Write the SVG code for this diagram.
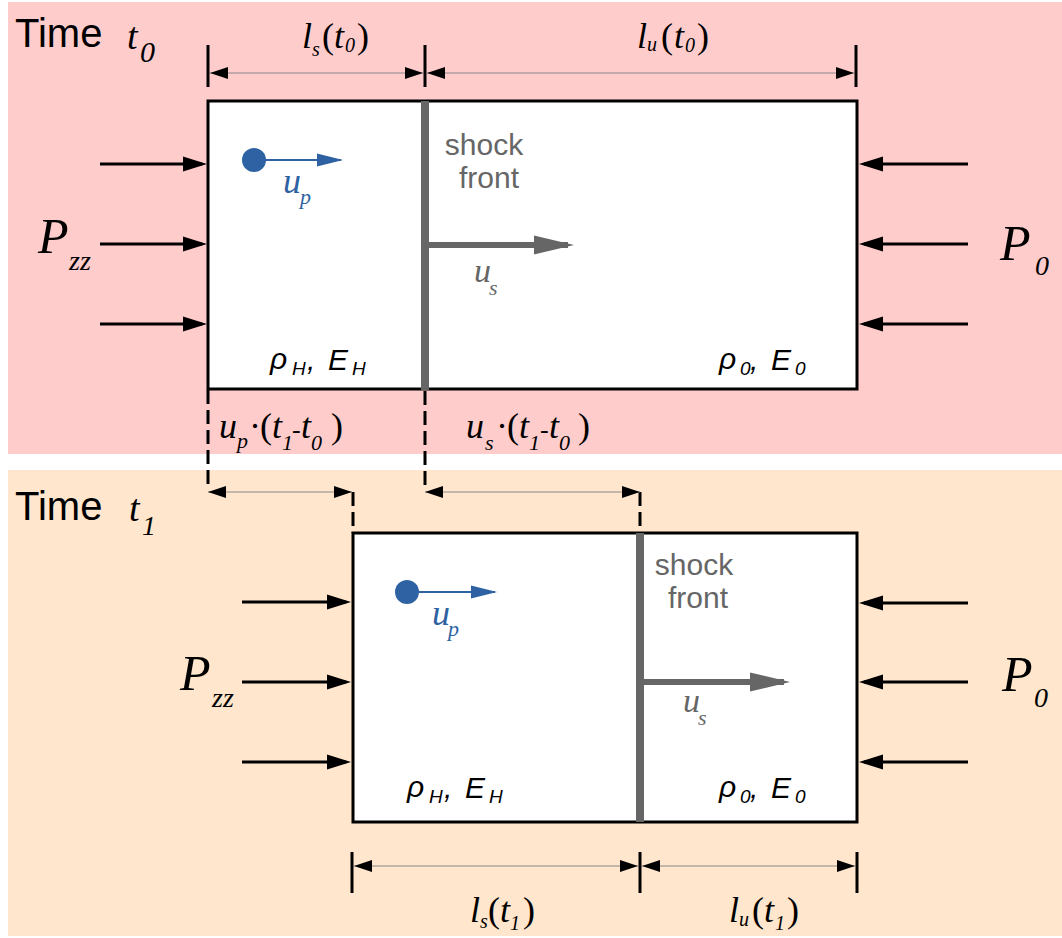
<svg xmlns="http://www.w3.org/2000/svg" width="1062" height="938" viewBox="0 0 1062 938">
<defs>
<style>
.sans{font-family:"Liberation Sans",Arial,sans-serif}
.isans{font-family:"Liberation Sans",Arial,sans-serif;font-style:italic}
.math{font-family:"Liberation Serif","Times New Roman",serif;font-style:italic}
.up{font-style:normal}
.box{fill:#fff;stroke:#000;stroke-width:3}
.shock{stroke:#666;stroke-width:8}
.press{stroke:#000;stroke-width:3;marker-end:url(#pa)}
.dim{stroke:#888;stroke-width:1;marker-start:url(#da);marker-end:url(#da)}
.tick{stroke:#000;stroke-width:3}
.dash{stroke:#000;stroke-width:3;stroke-dasharray:14 6;fill:none}
.sarrow{stroke:#666;stroke-width:6;marker-end:url(#sa)}
.barrow{stroke:#2e62a2;stroke-width:2;marker-end:url(#ba)}
.gray{fill:#666}
.blue{fill:#2e62a2}
</style>
<marker id="pa" markerUnits="userSpaceOnUse" markerWidth="24" markerHeight="16" refX="19" refY="8" orient="auto"><path d="M0,0.5 L24,8 L0,15.5 z" fill="#000"/></marker>
<marker id="da" markerUnits="userSpaceOnUse" markerWidth="18" markerHeight="12" refX="18" refY="6" orient="auto-start-reverse"><path d="M0,0 L18,6 L0,12 z" fill="#000"/></marker>
<marker id="sa" markerUnits="userSpaceOnUse" markerWidth="40" markerHeight="20" refX="34" refY="10" orient="auto"><path d="M0,0.5 L40,10 L0,19.5 z" fill="#666"/></marker>
<marker id="ba" markerUnits="userSpaceOnUse" markerWidth="26" markerHeight="14" refX="24" refY="7" orient="auto"><path d="M0,0.5 L26,7 L0,13.5 z" fill="#2e62a2"/></marker>
</defs>

<g id="panel-t0">
<rect x="8" y="2" width="1054" height="452" fill="#ffcccc"/>
<text class="sans" x="15" y="47" font-size="40">Time</text>
<text class="math"><tspan x="127" y="49" font-size="38">t</tspan><tspan x="140" y="62" font-size="30">0</tspan></text>
</g>
<g id="panel-t1">
<rect x="8" y="470" width="1054" height="466" fill="#ffe6cc"/>
<text class="sans" x="15" y="520" font-size="40">Time</text>
<text class="math"><tspan x="129" y="521" font-size="38">t</tspan><tspan x="142" y="535" font-size="28">1</tspan></text>
</g>

<g id="box-t0">
<rect class="box" x="208" y="101" width="649" height="288"/>
<line class="shock" x1="425" y1="101" x2="425" y2="390"/>
<text class="sans gray" font-size="30" text-anchor="middle"><tspan x="484" y="155">shock</tspan><tspan x="489" y="188">front</tspan></text>
<text class="isans" font-size="30"><tspan x="270" y="369">ρ</tspan><tspan x="292" y="375" font-size="19">H</tspan><tspan x="307" y="370">,</tspan><tspan x="328" y="370">E</tspan><tspan x="352" y="375" font-size="19">H</tspan></text>
<text class="isans" font-size="30"><tspan x="719" y="369">ρ</tspan><tspan x="740" y="375" font-size="19">0</tspan><tspan x="750" y="370">,</tspan><tspan x="771" y="370">E</tspan><tspan x="795" y="375" font-size="19">0</tspan></text>
<circle class="blue" cx="254" cy="160" r="12"/>
<text class="math blue"><tspan x="283" y="193" font-size="36">u</tspan><tspan x="300" y="204" font-size="22">p</tspan></text>
<text class="math gray"><tspan x="474" y="282" font-size="34">u</tspan><tspan x="489" y="295" font-size="22">s</tspan></text>
</g>

<g id="box-t1">
<rect class="box" x="353" y="533" width="504" height="289"/>
<line class="shock" x1="640" y1="533" x2="640" y2="822"/>
<text class="sans gray" font-size="30" text-anchor="middle"><tspan x="694" y="575">shock</tspan><tspan x="698" y="608">front</tspan></text>
<text class="isans" font-size="30"><tspan x="407" y="797">ρ</tspan><tspan x="429" y="803" font-size="19">H</tspan><tspan x="444" y="798">,</tspan><tspan x="465" y="798">E</tspan><tspan x="489" y="803" font-size="19">H</tspan></text>
<text class="isans" font-size="30"><tspan x="719" y="797">ρ</tspan><tspan x="740" y="803" font-size="19">0</tspan><tspan x="750" y="798">,</tspan><tspan x="771" y="798">E</tspan><tspan x="795" y="803" font-size="19">0</tspan></text>
<circle class="blue" cx="407" cy="592" r="12"/>
<text class="math blue"><tspan x="432" y="625" font-size="36">u</tspan><tspan x="448" y="636" font-size="22">p</tspan></text>
<text class="math gray"><tspan x="683" y="712" font-size="34">u</tspan><tspan x="698" y="725" font-size="22">s</tspan></text>
</g>

<g id="pressure-labels">
<text class="math"><tspan x="38" y="253" font-size="50">P</tspan><tspan x="69" y="270" font-size="28">zz</tspan></text>
<text class="math"><tspan x="1000" y="260" font-size="50">P</tspan><tspan x="1035" y="275" font-size="28">0</tspan></text>
<text class="math"><tspan x="180" y="690" font-size="50">P</tspan><tspan x="212" y="707" font-size="28">zz</tspan></text>
<text class="math"><tspan x="1002" y="691" font-size="50">P</tspan><tspan x="1034" y="707" font-size="28">0</tspan></text>
</g>

<g id="dimension-labels">
<text class="math" font-size="36"><tspan x="302" y="48">l</tspan><tspan x="312" y="56" font-size="20">s</tspan><tspan class="up" x="322" y="48">(</tspan><tspan x="334" y="48">t</tspan><tspan x="345" y="52" font-size="20">0</tspan><tspan class="up" x="357" y="48">)</tspan></text>
<text class="math" font-size="36"><tspan x="637" y="48">l</tspan><tspan x="647" y="51" font-size="20">u</tspan><tspan class="up" x="661" y="48">(</tspan><tspan x="674" y="48">t</tspan><tspan x="685" y="52" font-size="20">0</tspan><tspan class="up" x="697" y="48">)</tspan></text>
<text class="math" font-size="36"><tspan x="219" y="438">u</tspan><tspan x="237" y="448" font-size="22">p</tspan><tspan class="up" x="249" y="438">·</tspan><tspan class="up" x="260" y="438">(</tspan><tspan x="272" y="438">t</tspan><tspan x="282" y="450" font-size="22">1</tspan><tspan class="up" x="292" y="438" font-size="26">-</tspan><tspan x="301" y="438">t</tspan><tspan x="311" y="450" font-size="22">0</tspan><tspan class="up" x="331" y="438">)</tspan></text>
<text class="math" font-size="36"><tspan x="466" y="438">u</tspan><tspan x="485" y="450" font-size="22">s</tspan><tspan class="up" x="496" y="438">·</tspan><tspan class="up" x="507" y="438">(</tspan><tspan x="519" y="438">t</tspan><tspan x="529" y="450" font-size="22">1</tspan><tspan class="up" x="540" y="438" font-size="26">-</tspan><tspan x="549" y="438">t</tspan><tspan x="559" y="450" font-size="22">0</tspan><tspan class="up" x="578" y="438">)</tspan></text>
<text class="math" font-size="36"><tspan x="470" y="922">l</tspan><tspan x="480" y="928" font-size="20">s</tspan><tspan class="up" x="488" y="922">(</tspan><tspan x="500" y="922">t</tspan><tspan x="510" y="930" font-size="20">1</tspan><tspan class="up" x="523" y="922">)</tspan></text>
<text class="math" font-size="36"><tspan x="729" y="922">l</tspan><tspan x="739" y="926" font-size="20">u</tspan><tspan class="up" x="752" y="922">(</tspan><tspan x="764" y="922">t</tspan><tspan x="775" y="930" font-size="20">1</tspan><tspan class="up" x="787" y="922">)</tspan></text>
</g>

<g id="connectors">
<line class="press" x1="100" y1="164" x2="202" y2="164"/>
<line class="press" x1="100" y1="244" x2="202" y2="244"/>
<line class="press" x1="100" y1="324" x2="202" y2="324"/>
<line class="press" x1="968" y1="164" x2="864" y2="164"/>
<line class="press" x1="968" y1="244" x2="864" y2="244"/>
<line class="press" x1="968" y1="324" x2="864" y2="324"/>
<line class="press" x1="242" y1="602" x2="346" y2="602"/>
<line class="press" x1="242" y1="682" x2="346" y2="682"/>
<line class="press" x1="242" y1="762" x2="346" y2="762"/>
<line class="press" x1="968" y1="603" x2="864" y2="603"/>
<line class="press" x1="968" y1="682" x2="864" y2="682"/>
<line class="press" x1="968" y1="762" x2="864" y2="762"/>
<line class="sarrow" x1="425" y1="245" x2="568" y2="245"/>
<line class="sarrow" x1="640" y1="682" x2="784" y2="682"/>
<line class="barrow" x1="254" y1="160" x2="341" y2="160"/>
<line class="barrow" x1="407" y1="592" x2="495" y2="592"/>
<line class="tick" x1="208" y1="45" x2="208" y2="87"/>
<line class="tick" x1="425" y1="45" x2="425" y2="87"/>
<line class="tick" x1="856" y1="45" x2="856" y2="87"/>
<line class="dim" x1="210" y1="73" x2="423" y2="73"/>
<line class="dim" x1="427" y1="73" x2="854" y2="73"/>
<path class="dash" d="M208,390 V490 M425,391 V490 M353,492 V533 M640,492 V533"/>
<line class="dim" x1="208" y1="492" x2="352" y2="492"/>
<line class="dim" x1="425" y1="492" x2="640" y2="492"/>
<line class="tick" x1="352" y1="852" x2="352" y2="893"/>
<line class="tick" x1="640" y1="852" x2="640" y2="893"/>
<line class="tick" x1="857" y1="852" x2="857" y2="893"/>
<line class="dim" x1="354" y1="866" x2="638" y2="866"/>
<line class="dim" x1="642" y1="866" x2="855" y2="866"/>
</g>
</svg>
